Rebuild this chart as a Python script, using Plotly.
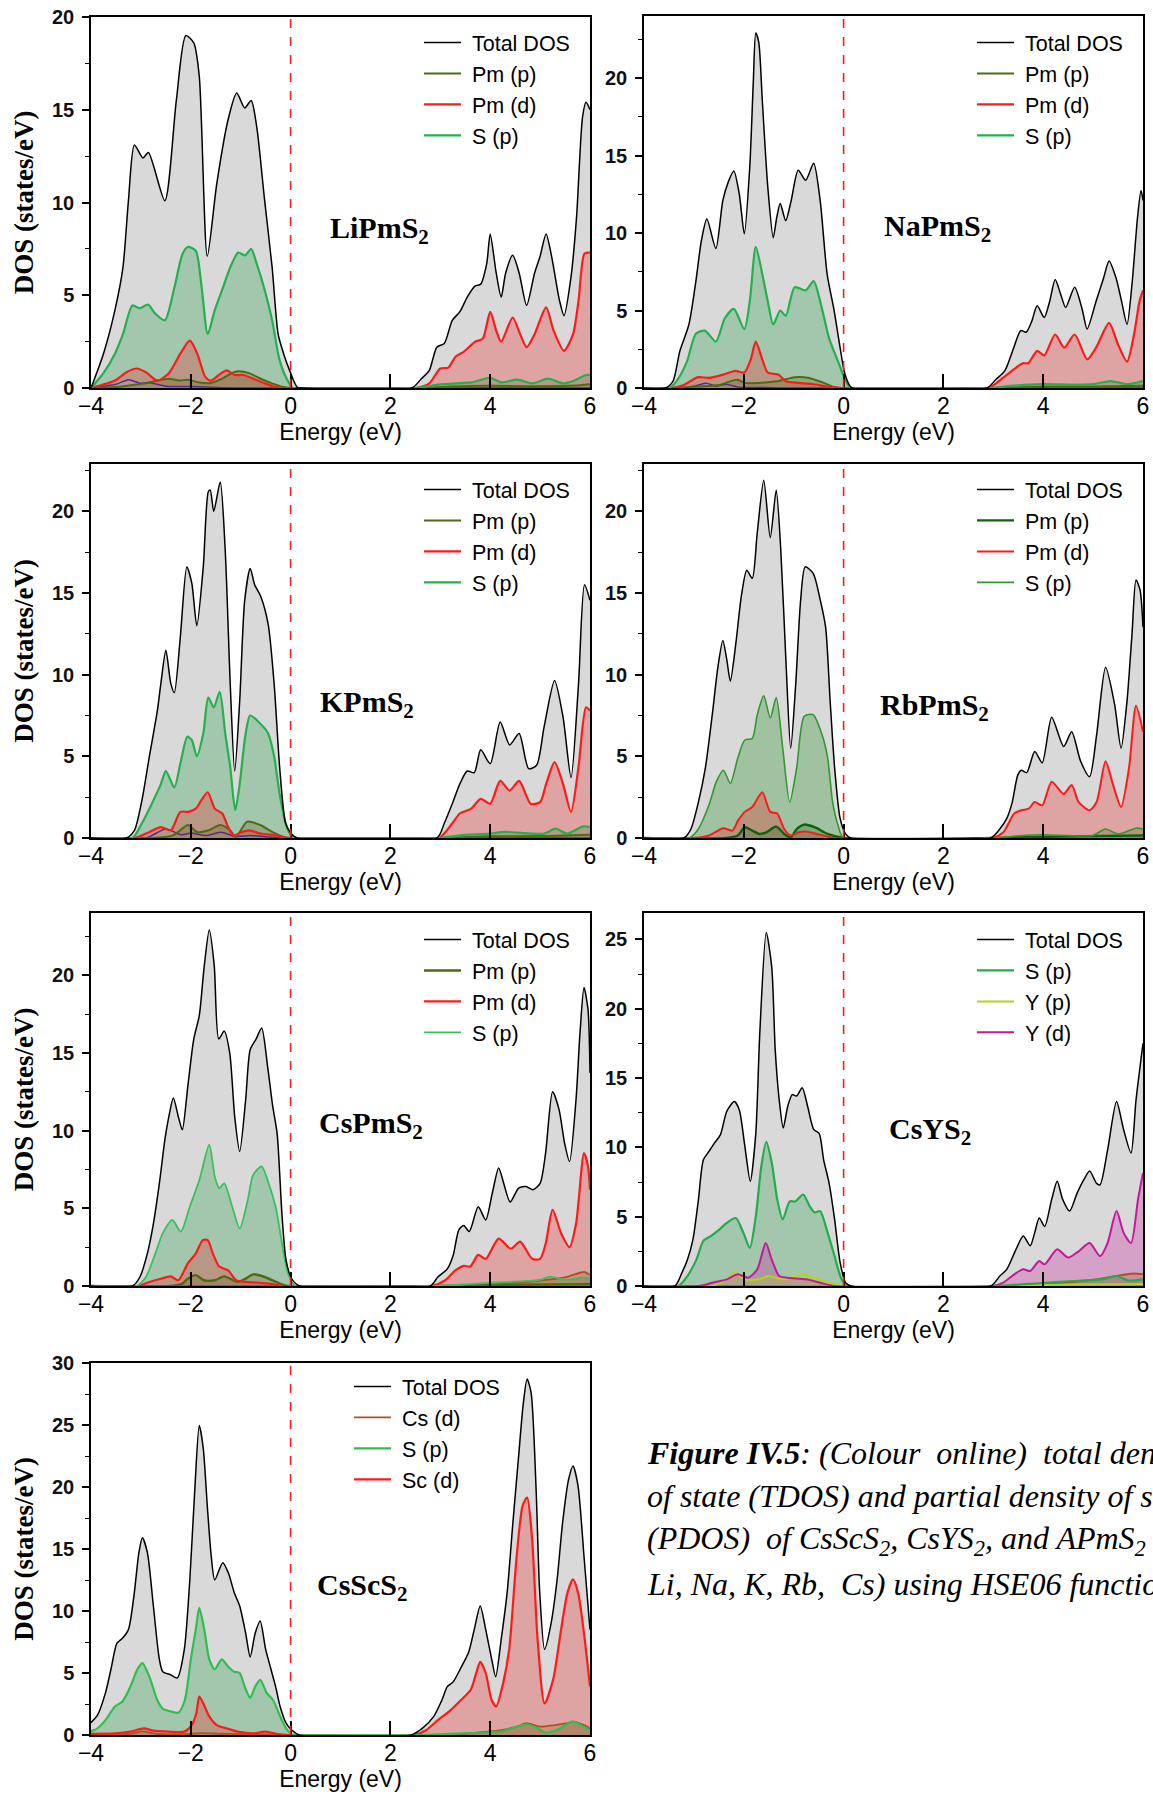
import plotly.graph_objects as go

W, H = 1153, 1796

# ----------------------------------------------------------------- data
# each list: (energy eV, DOS states/eV)
# LiPmS2
LI_TOT = [(-4.0,0),(-3.75,1.85),(-3.52,4.2),(-3.36,6.5),(-3.25,10.1),(-3.13,13.1),(-2.96,12.4),(-2.85,12.7),(-2.52,10.1),(-2.29,15.5),(-2.10,19.0),(-1.94,18.6),(-1.83,16.8),(-1.67,7.1),(-1.48,11.0),(-1.25,14.5),(-1.08,15.9),(-0.92,15.1),(-0.79,15.5),(-0.68,14.1),(-0.52,10.1),(-0.37,6.5),(-0.25,2.9),(-0.14,1.85),(-0.02,0.95),(0.13,0.05),(0.24,0),(2.43,0),(2.62,0.5),(2.78,0.95),(2.93,2.2),(3.08,2.4),(3.24,3.65),(3.39,4.1),(3.54,4.9),(3.70,5.5),(3.81,5.6),(3.93,6.7),(4.0,8.3),(4.12,6.2),(4.22,4.9),(4.31,6.2),(4.45,7.15),(4.58,6.2),(4.73,4.45),(4.89,6.2),(5.0,7.1),(5.12,8.3),(5.23,7.1),(5.39,4.7),(5.48,3.9),(5.62,6.0),(5.73,9.2),(5.85,14.6),(5.92,15.4),(6.0,15.0)]
LI_SP = [(-4.0,0),(-3.75,0.8),(-3.52,1.85),(-3.36,2.9),(-3.17,4.45),(-3.02,4.3),(-2.86,4.5),(-2.71,4.0),(-2.52,3.65),(-2.33,5.4),(-2.17,7.2),(-2.06,7.6),(-1.9,7.4),(-1.79,5.6),(-1.66,2.9),(-1.52,4.2),(-1.37,5.3),(-1.21,6.5),(-1.05,7.3),(-0.91,7.15),(-0.79,7.5),(-0.68,6.7),(-0.52,5.3),(-0.37,3.65),(-0.22,1.5),(-0.06,0.4),(0.05,0),(2.47,0),(3.0,0.2),(3.62,0.3),(4.0,0.55),(4.23,0.3),(4.54,0.45),(4.85,0.25),(5.16,0.5),(5.46,0.25),(5.69,0.4),(5.92,0.7),(6.0,0.7)]
LI_PMD = [(-4.0,0),(-3.52,0.4),(-3.29,0.85),(-3.09,1.05),(-2.9,0.85),(-2.67,0.4),(-2.44,0.8),(-2.21,1.85),(-2.02,2.55),(-1.87,1.85),(-1.71,0.6),(-1.6,0.4),(-1.44,0.7),(-1.28,0.95),(-1.12,0.7),(-0.95,0.7),(-0.75,0.5),(-0.52,0.25),(-0.29,0.05),(-0.14,0),(2.51,0),(2.78,0.25),(3.0,1.05),(3.16,1.1),(3.31,1.7),(3.47,1.95),(3.7,2.5),(3.85,2.65),(4.0,4.1),(4.12,3.1),(4.22,2.5),(4.45,3.8),(4.6,2.9),(4.73,2.2),(4.89,2.9),(5.12,4.35),(5.27,3.1),(5.48,2.0),(5.66,2.9),(5.77,4.7),(5.89,7.25),(6.0,7.3)]
LI_PMP = [(-4.0,0),(-3.52,0.05),(-3.2,0.15),(-2.9,0.25),(-2.67,0.4),(-2.44,0.5),(-2.21,0.4),(-2.06,0.45),(-1.83,0.3),(-1.6,0.27),(-1.37,0.5),(-1.18,0.8),(-1.05,0.9),(-0.83,0.8),(-0.6,0.5),(-0.37,0.25),(-0.14,0.05),(0.0,0),(2.6,0),(3.2,0.08),(4.0,0.12),(5.0,0.1),(5.8,0.15),(6.0,0.2)]
LI_X = [(-4.0,0),(-3.5,0.2),(-3.25,0.45),(-3.0,0.25),(-2.85,0.3),(-2.5,0.1),(-2.0,0.08),(-1.5,0.03),(-1.0,0),(6.0,0)]

# NaPmS2
NA_TOT = [(-4.0,0),(-3.57,0),(-3.42,0.43),(-3.28,2.4),(-3.1,4.1),(-2.96,6.9),(-2.85,9.5),(-2.74,10.9),(-2.56,9.0),(-2.42,12.1),(-2.31,13.3),(-2.2,14.0),(-2.09,12.5),(-1.99,9.95),(-1.88,14.3),(-1.81,19.7),(-1.76,22.9),(-1.70,22.3),(-1.63,18.6),(-1.52,13.0),(-1.41,9.7),(-1.34,11.0),(-1.27,11.9),(-1.16,10.8),(-1.05,12.1),(-0.91,14.05),(-0.76,13.4),(-0.6,14.5),(-0.47,12.1),(-0.33,7.35),(-0.19,5.0),(-0.08,2.8),(0.03,0.86),(0.17,0),(2.87,0),(3.05,0.55),(3.23,1.1),(3.41,2.6),(3.55,3.7),(3.66,3.6),(3.77,4.3),(3.88,5.3),(4.02,4.55),(4.13,5.6),(4.24,7.0),(4.35,6.05),(4.45,5.2),(4.63,6.5),(4.78,5.1),(4.88,3.8),(5.06,5.6),(5.21,7.1),(5.32,8.2),(5.46,7.1),(5.57,5.6),(5.68,4.1),(5.78,6.7),(5.89,11.0),(5.96,12.75),(6.0,12.1)]
NA_SP = [(-4.0,0),(-3.5,0),(-3.35,0.43),(-3.14,1.7),(-2.96,3.5),(-2.78,3.7),(-2.56,3.0),(-2.38,4.5),(-2.2,5.1),(-1.99,3.8),(-1.88,5.6),(-1.76,9.1),(-1.63,7.35),(-1.52,5.6),(-1.41,4.1),(-1.27,5.0),(-1.16,4.65),(-0.98,6.5),(-0.76,6.3),(-0.6,6.9),(-0.44,5.2),(-0.29,3.2),(-0.11,1.7),(0.03,0.54),(0.14,0),(2.9,0),(3.4,0.15),(4.0,0.25),(4.6,0.22),(5.0,0.25),(5.35,0.45),(5.7,0.25),(6.0,0.45)]
NA_PMD = [(-4.0,0),(-3.45,0),(-3.2,0.2),(-2.92,0.7),(-2.7,0.65),(-2.42,0.86),(-2.17,1.1),(-1.99,1.0),(-1.86,1.85),(-1.76,3.0),(-1.64,1.95),(-1.52,1.0),(-1.3,0.86),(-1.16,0.43),(-0.91,0.33),(-0.62,0.26),(-0.33,0.1),(-0.04,0),(2.9,0),(3.19,0.65),(3.41,1.2),(3.59,1.6),(3.7,1.6),(3.88,2.4),(4.02,2.1),(4.24,3.45),(4.42,2.6),(4.63,3.45),(4.88,1.85),(5.06,2.6),(5.32,4.2),(5.5,2.8),(5.68,1.7),(5.82,3.45),(5.93,5.6),(6.0,6.3)]
NA_PMP = [(-4.0,0),(-3.4,0),(-2.92,0.1),(-2.49,0.2),(-2.13,0.54),(-1.99,0.33),(-1.7,0.33),(-1.34,0.43),(-0.98,0.7),(-0.69,0.65),(-0.4,0.33),(-0.11,0),(3.0,0),(4.0,0.1),(5.0,0.1),(6.0,0.15)]
NA_X = [(-4.0,0),(-3.2,0),(-2.95,0.15),(-2.75,0.3),(-2.55,0.12),(-2.35,0.25),(-2.1,0.05),(-1.6,0.03),(-1.2,0),(6.0,0)]

# KPmS2
K_TOT = [(-4.0,0),(-3.29,0),(-3.13,0.47),(-2.98,2.3),(-2.83,5.0),(-2.67,7.8),(-2.6,9.45),(-2.5,11.5),(-2.4,9.45),(-2.33,8.9),(-2.21,12.3),(-2.08,16.6),(-1.98,15.6),(-1.88,13.0),(-1.75,16.6),(-1.65,21.2),(-1.61,21.3),(-1.54,20.0),(-1.41,21.8),(-1.31,17.6),(-1.21,9.45),(-1.12,4.1),(-1.02,8.4),(-0.92,14.55),(-0.81,16.5),(-0.72,15.5),(-0.6,14.8),(-0.45,13.1),(-0.33,9.45),(-0.22,4.35),(-0.1,0.9),(0.01,0.27),(0.13,0),(2.93,0),(3.08,0.9),(3.24,2.1),(3.39,3.3),(3.54,4.1),(3.68,4.0),(3.81,5.4),(4.0,4.55),(4.2,7.1),(4.39,5.7),(4.58,6.4),(4.77,4.25),(4.93,4.45),(5.08,6.8),(5.29,9.65),(5.46,7.4),(5.62,3.7),(5.77,9.45),(5.89,15.5),(6.0,14.55)]
K_SP = [(-4.0,0),(-3.17,0),(-2.98,0.9),(-2.75,2.3),(-2.6,3.3),(-2.5,4.1),(-2.33,3.1),(-2.21,4.55),(-2.07,6.2),(-1.98,6.0),(-1.88,5.0),(-1.75,6.4),(-1.65,8.6),(-1.54,8.0),(-1.42,8.95),(-1.31,6.4),(-1.21,4.35),(-1.11,1.7),(-1.02,3.3),(-0.91,6.2),(-0.81,7.5),(-0.64,7.1),(-0.45,6.4),(-0.33,5.0),(-0.22,2.7),(-0.1,0.9),(0.01,0.16),(0.13,0),(2.97,0),(3.39,0.16),(4.0,0.27),(4.3,0.37),(5.08,0.27),(5.31,0.57),(5.54,0.27),(5.85,0.7),(6.0,0.67)]
K_PMD = [(-4.0,0),(-3.13,0),(-2.9,0.27),(-2.6,0.67),(-2.4,0.47),(-2.21,1.6),(-2.06,1.6),(-1.9,1.8),(-1.79,2.3),(-1.66,2.8),(-1.52,1.8),(-1.37,1.5),(-1.25,0.67),(-1.14,0.16),(-0.98,0.37),(-0.83,0.47),(-0.6,0.27),(-0.29,0.16),(-0.06,0),(2.97,0),(3.24,0.9),(3.39,1.5),(3.62,1.8),(3.81,2.4),(4.0,2.1),(4.2,3.5),(4.39,2.9),(4.58,3.5),(4.81,2.1),(5.0,2.2),(5.12,3.3),(5.29,4.65),(5.46,3.3),(5.62,1.6),(5.77,4.35),(5.92,8.0),(6.0,7.8)]
K_PMP = [(-4.0,0),(-2.75,0),(-2.36,0.16),(-2.21,0.47),(-2.06,0.8),(-1.87,0.37),(-1.64,0.47),(-1.41,0.8),(-1.21,0.47),(-1.1,0.06),(-0.87,1.0),(-0.6,0.78),(-0.37,0.37),(-0.14,0.06),(0.0,0),(3.0,0),(4.0,0.1),(5.0,0.12),(6.0,0.2)]
K_X = [(-4.0,0),(-2.9,0),(-2.5,0.55),(-2.2,0.2),(-2.0,0.3),(-1.7,0.15),(-1.4,0.35),(-1.1,0.1),(-0.8,0.15),(-0.4,0.05),(0.0,0),(6.0,0)]

# RbPmS2
RB_TOT = [(-4.0,0),(-3.2,0),(-3.06,0.55),(-2.91,2.2),(-2.77,4.3),(-2.63,7.6),(-2.52,10.45),(-2.42,12.1),(-2.34,10.9),(-2.27,9.6),(-2.16,11.9),(-2.05,14.8),(-1.94,16.4),(-1.83,15.9),(-1.73,18.7),(-1.6,21.9),(-1.47,18.4),(-1.35,21.3),(-1.26,17.7),(-1.15,10.45),(-1.06,5.5),(-0.96,9.4),(-0.86,14.6),(-0.77,16.6),(-0.61,16.2),(-0.47,14.6),(-0.36,12.9),(-0.27,8.4),(-0.18,4.3),(-0.07,1.2),(0.04,0.25),(0.14,0),(2.95,0),(3.13,0.55),(3.27,1.2),(3.38,2.2),(3.49,3.85),(3.56,4.15),(3.67,4.0),(3.83,5.3),(3.98,4.6),(4.17,7.4),(4.41,5.6),(4.57,6.5),(4.75,4.7),(4.93,3.75),(5.07,6.3),(5.25,10.45),(5.43,8.2),(5.56,5.5),(5.68,8.4),(5.78,12.5),(5.86,15.8),(5.94,15.2),(6.0,12.9)]
RB_SP = [(-4.0,0),(-3.09,0),(-2.91,0.55),(-2.7,2.0),(-2.55,3.45),(-2.41,4.15),(-2.27,3.35),(-2.12,4.9),(-1.98,6.0),(-1.83,6.1),(-1.73,7.55),(-1.6,8.7),(-1.47,7.35),(-1.35,8.6),(-1.22,5.5),(-1.08,2.2),(-0.94,4.3),(-0.79,7.45),(-0.61,7.55),(-0.43,6.3),(-0.32,4.9),(-0.22,2.2),(-0.11,0.76),(0.0,0),(3.0,0),(3.56,0.15),(4.0,0.2),(4.99,0.15),(5.25,0.55),(5.5,0.25),(5.86,0.6),(6.0,0.55)]
RB_PMD = [(-4.0,0),(-3.0,0),(-2.7,0.15),(-2.41,0.6),(-2.23,0.45),(-2.12,1.05),(-1.98,1.6),(-1.83,1.9),(-1.63,2.8),(-1.47,1.6),(-1.33,1.5),(-1.19,0.55),(-1.06,0.15),(-0.9,0.35),(-0.76,0.4),(-0.47,0.2),(-0.18,0),(2.99,0),(3.2,0.35),(3.42,1.5),(3.56,1.7),(3.71,1.8),(3.83,2.2),(3.98,2.0),(4.17,3.45),(4.41,2.7),(4.57,3.25),(4.71,2.2),(4.93,1.7),(5.07,2.2),(5.25,4.7),(5.4,3.25),(5.56,1.9),(5.72,4.3),(5.86,8.1),(6.0,6.5)]
RB_PMP = [(-4.0,0),(-2.34,0),(-2.12,0.15),(-1.98,0.66),(-1.83,0.45),(-1.69,0.25),(-1.55,0.35),(-1.35,0.7),(-1.19,0.25),(-1.06,0.04),(-0.94,0.55),(-0.79,0.82),(-0.58,0.66),(-0.32,0.25),(0.0,0),(3.0,0),(4.5,0.1),(6.0,0.15)]

# CsPmS2
CSPM_TOT = [(-4.0,0),(-3.17,0),(-3.02,0.58),(-2.87,2.1),(-2.75,4.0),(-2.63,6.6),(-2.52,9.4),(-2.44,10.9),(-2.35,12.1),(-2.25,10.9),(-2.17,10.05),(-2.06,12.85),(-1.94,15.9),(-1.83,17.4),(-1.73,20.6),(-1.63,22.9),(-1.53,20.6),(-1.44,15.9),(-1.33,16.4),(-1.22,15.0),(-1.12,10.9),(-1.02,8.65),(-0.9,12.0),(-0.81,15.2),(-0.69,15.9),(-0.58,16.6),(-0.46,14.1),(-0.36,11.6),(-0.27,9.8),(-0.17,4.45),(-0.09,1.65),(0.02,0.47),(0.18,0),(2.8,0),(2.95,0.58),(3.14,1.1),(3.26,2.0),(3.37,3.6),(3.47,3.9),(3.58,3.5),(3.76,5.1),(3.91,4.25),(4.04,5.95),(4.17,7.6),(4.28,6.5),(4.4,5.4),(4.57,6.3),(4.72,6.4),(4.86,6.2),(5.0,6.6),(5.11,8.55),(5.25,12.5),(5.38,11.35),(5.49,9.2),(5.59,8.0),(5.72,12.0),(5.8,16.3),(5.88,19.2),(5.96,17.8),(6.0,13.7)]
CSPM_SP = [(-4.0,0),(-3.09,0),(-2.9,0.58),(-2.71,2.1),(-2.56,3.4),(-2.37,4.25),(-2.2,3.5),(-2.02,5.1),(-1.83,6.8),(-1.63,9.1),(-1.52,7.05),(-1.43,6.3),(-1.33,6.6),(-1.17,5.1),(-1.02,3.7),(-0.86,5.5),(-0.75,7.15),(-0.58,7.7),(-0.44,6.6),(-0.3,5.1),(-0.17,2.7),(-0.05,0.8),(0.1,0),(2.9,0),(3.5,0.1),(4.0,0.2),(4.6,0.3),(5.0,0.4),(5.2,0.6),(5.5,0.4),(5.9,0.55),(6.0,0.45)]
CSPM_PMD = [(-4.0,0),(-3.05,0),(-2.83,0.26),(-2.6,0.47),(-2.4,0.62),(-2.25,0.37),(-2.06,1.45),(-1.9,2.1),(-1.76,2.95),(-1.66,2.95),(-1.56,2.1),(-1.43,1.25),(-1.25,1.0),(-1.09,0.37),(-0.9,0.26),(-0.67,0.22),(-0.44,0.15),(-0.13,0),(2.83,0),(3.1,0.37),(3.3,1.0),(3.47,1.3),(3.6,1.25),(3.76,2.0),(3.91,1.75),(4.17,3.05),(4.41,2.4),(4.6,2.85),(4.84,1.75),(5.0,1.75),(5.11,2.7),(5.25,4.9),(5.42,3.4),(5.59,2.5),(5.72,4.0),(5.88,8.55),(5.96,7.7),(6.0,6.2)]
CSPM_PMP = [(-4.0,0),(-2.4,0),(-2.17,0.15),(-2.06,0.47),(-1.9,0.7),(-1.74,0.37),(-1.52,0.37),(-1.33,0.62),(-1.06,0.26),(-0.9,0.47),(-0.75,0.75),(-0.52,0.58),(-0.29,0.26),(-0.05,0),(3.0,0),(4.5,0.08),(6.0,0.12)]
CSPM_X = [(-4.0,0),(3.0,0),(4.0,0.1),(4.5,0.2),(5.0,0.35),(5.5,0.55),(5.88,0.9),(6.0,0.7)]

# CsYS2
CSY_TOT = [(-4.0,0),(-3.38,0),(-3.24,0.96),(-3.13,1.9),(-3.02,3.35),(-2.91,6.2),(-2.81,9.1),(-2.7,9.7),(-2.59,10.3),(-2.47,10.9),(-2.34,12.6),(-2.19,13.3),(-2.09,12.7),(-1.98,10.1),(-1.87,7.55),(-1.76,11.0),(-1.68,18.2),(-1.55,25.5),(-1.44,23.0),(-1.37,17.0),(-1.29,13.4),(-1.21,11.4),(-1.12,12.95),(-1.03,13.8),(-0.94,13.7),(-0.83,14.3),(-0.72,12.95),(-0.6,11.3),(-0.49,11.0),(-0.4,9.1),(-0.29,7.4),(-0.18,4.8),(-0.07,1.7),(0.04,0.24),(0.15,0),(2.95,0),(3.13,0.72),(3.27,1.2),(3.45,2.6),(3.6,3.6),(3.74,2.9),(3.83,3.85),(3.92,4.9),(4.03,4.3),(4.17,6.25),(4.28,7.55),(4.39,6.25),(4.53,5.4),(4.68,6.7),(4.82,7.7),(4.93,8.3),(5.07,7.4),(5.14,7.3),(5.29,9.8),(5.47,13.3),(5.61,11.3),(5.76,9.6),(5.86,13.4),(6.0,17.5)]
CSY_SP = [(-4.0,0),(-3.31,0),(-3.13,0.72),(-2.95,1.9),(-2.81,3.25),(-2.66,3.6),(-2.48,4.1),(-2.34,4.55),(-2.16,4.9),(-2.01,3.85),(-1.88,2.75),(-1.76,5.0),(-1.65,8.6),(-1.55,10.4),(-1.44,8.9),(-1.33,6.25),(-1.22,4.8),(-1.08,6.1),(-0.97,6.1),(-0.81,6.6),(-0.68,5.75),(-0.58,5.3),(-0.47,5.4),(-0.32,3.85),(-0.18,2.15),(-0.04,0.48),(0.1,0),(3.0,0),(3.9,0.2),(4.6,0.36),(5.2,0.5),(5.47,0.72),(5.7,0.4),(6.0,0.48)]
CSY_YP = [(-4.0,0),(-2.63,0),(-2.34,0.48),(-2.19,1.0),(-1.98,0.48),(-1.69,0.48),(-1.51,0.72),(-1.19,0.48),(-0.83,0.84),(-0.61,0.6),(-0.32,0.3),(-0.04,0),(3.0,0),(4.5,0.1),(6.0,0.15)]
CSY_YD = [(-4.0,0),(-2.91,0),(-2.63,0.24),(-2.34,0.48),(-2.12,0.84),(-1.91,0.6),(-1.73,1.2),(-1.56,3.1),(-1.44,1.9),(-1.29,0.72),(-1.12,0.6),(-0.76,0.48),(-0.47,0.24),(-0.18,0),(2.99,0),(3.2,0.24),(3.42,0.84),(3.6,1.2),(3.74,1.08),(3.92,1.8),(4.03,1.56),(4.28,2.65),(4.5,2.05),(4.71,2.5),(4.93,3.1),(5.14,2.15),(5.29,3.1),(5.47,5.4),(5.61,3.85),(5.76,3.1),(5.9,6.25),(6.0,8.15)]
CSY_X = [(-4.0,0),(3.2,0),(4.3,0.2),(5.0,0.45),(5.5,0.75),(5.8,0.9),(6.0,0.85)]

# CsScS2
CSSC_TOT = [(-4.0,1.0),(-3.87,1.6),(-3.71,3.4),(-3.6,5.3),(-3.48,7.4),(-3.37,7.8),(-3.25,8.5),(-3.14,11.2),(-3.04,14.7),(-2.97,15.9),(-2.87,14.7),(-2.75,10.4),(-2.63,6.1),(-2.56,5.1),(-2.4,4.85),(-2.27,4.6),(-2.13,6.9),(-2.02,12.5),(-1.92,19.8),(-1.83,24.95),(-1.75,23.1),(-1.67,18.5),(-1.59,14.4),(-1.52,12.5),(-1.36,13.9),(-1.25,13.1),(-1.13,11.5),(-1.02,10.4),(-0.9,8.2),(-0.81,6.3),(-0.71,8.2),(-0.61,9.2),(-0.5,6.9),(-0.4,5.4),(-0.3,3.9),(-0.21,2.3),(-0.09,0.95),(0.02,0.4),(0.18,0),(2.41,0),(2.64,0.54),(2.87,1.5),(3.03,2.8),(3.14,3.9),(3.26,4.3),(3.41,5.4),(3.57,6.7),(3.68,8.5),(3.8,10.4),(3.91,8.5),(4.03,6.1),(4.11,4.7),(4.22,7.7),(4.34,11.5),(4.45,16.9),(4.57,22.5),(4.66,26.6),(4.74,28.7),(4.82,27.6),(4.92,19.8),(4.99,11.7),(5.09,6.9),(5.22,9.0),(5.34,12.5),(5.45,17.1),(5.57,20.6),(5.66,21.7),(5.76,20.1),(5.88,14.4),(6.0,8.5)]
CSSC_SP = [(-4.0,0.3),(-3.87,0.54),(-3.71,1.2),(-3.52,2.3),(-3.37,2.7),(-3.21,3.9),(-3.07,5.3),(-2.97,5.8),(-2.83,4.7),(-2.67,2.8),(-2.56,2.1),(-2.4,1.9),(-2.25,1.8),(-2.12,2.8),(-2.0,6.1),(-1.9,8.5),(-1.83,10.25),(-1.73,8.5),(-1.63,6.1),(-1.52,5.3),(-1.38,6.1),(-1.25,5.5),(-1.13,5.1),(-1.02,5.0),(-0.92,3.9),(-0.81,3.0),(-0.71,3.9),(-0.61,4.45),(-0.48,3.4),(-0.35,2.8),(-0.21,1.5),(-0.09,0.54),(0.02,0.05),(0.1,0),(2.64,0),(3.41,0.13),(3.9,0.2),(4.22,0.27),(4.53,0.67),(4.72,0.86),(4.95,0.54),(5.11,0.2),(5.34,0.4),(5.65,1.08),(5.88,0.67),(6.0,0.4)]
CSSC_SCD = [(-4.0,0.1),(-3.52,0.13),(-3.21,0.27),(-2.94,0.54),(-2.75,0.35),(-2.45,0.27),(-2.13,0.27),(-1.98,0.8),(-1.89,1.75),(-1.83,3.1),(-1.75,2.55),(-1.63,1.5),(-1.48,0.8),(-1.29,0.54),(-1.06,0.27),(-0.75,0.13),(-0.52,0.27),(-0.29,0.1),(-0.05,0),(2.49,0),(2.72,0.4),(2.95,1.2),(3.18,1.9),(3.41,2.8),(3.61,3.65),(3.72,5.0),(3.8,5.9),(3.91,5.0),(4.03,2.8),(4.12,2.3),(4.26,4.2),(4.38,6.9),(4.53,14.4),(4.65,18.5),(4.74,19.15),(4.84,15.8),(4.95,7.7),(5.09,2.55),(5.26,4.45),(5.42,8.5),(5.55,11.5),(5.66,12.55),(5.76,11.5),(5.88,8.2),(6.0,3.9)]
CSSC_CSD = [(-4.0,0),(-3.2,0.1),(-2.97,0.3),(-2.7,0.1),(-2.2,0.05),(-1.8,0.15),(-1.4,0.1),(-0.5,0.05),(0.0,0),(3.0,0),(3.6,0.13),(3.9,0.25),(4.22,0.4),(4.53,0.67),(4.72,0.95),(5.0,0.67),(5.3,0.8),(5.55,0.95),(5.67,1.08),(5.88,0.8),(6.0,0.54)]

X_TICKS = [-4, -2, 0, 2, 4, 6]
X_RANGE = [-4, 6]

# ----------------------------------------------------------------- styles
BLACK = "#000000"
GREY_FILL = "rgb(217,217,217)"
RED = "#ff1a1a"; RED_FILL = "rgba(235,40,40,0.30)"
GREEN = "#22b14c"; GREEN_FILL = "rgba(55,165,85,0.33)"
OLIVE = "#4e6b14"; OLIVE_FILL = "rgba(110,100,30,0.30)"
PURPLE = "#5b2a8e"
BROWN = "#a8541c"; BROWN_FILL = "rgba(168,84,28,0.25)"
MAGENTA = "#c8169b"; MAGENTA_FILL = "rgba(200,22,155,0.28)"
YGREEN = "#b5d31a"

def S(label, data, color, width, fill, legend=True, rank=0):
    return dict(label=label, data=data, color=color, width=width, fill=fill, legend=legend, rank=rank)

# panels: (compound label, frame px (x0,x1,y0,y1), ymax, yaxis title?, legend px (x,y), label px (x,y), series)
PANELS = [
    ("LiPmS<sub>2</sub>", (91, 590, 17, 388), 20.0, True, (419, 22), (379, 230), [
        S("Total DOS", LI_TOT, BLACK, 1.5, GREY_FILL, True, 1),
        S("S (p)", LI_SP, GREEN, 2.2, GREEN_FILL, True, 4),
        S("Pm (d)", LI_PMD, RED, 2.2, RED_FILL, True, 3),
        S("Pm (p)", LI_PMP, OLIVE, 2.0, OLIVE_FILL, True, 2),
        S("x", LI_X, PURPLE, 1.5, None, False)]),
    ("NaPmS<sub>2</sub>", (644, 1143, 16, 388), 24.0, False, (972, 22), (937, 228), [
        S("Total DOS", NA_TOT, BLACK, 1.5, GREY_FILL, True, 1),
        S("S (p)", NA_SP, GREEN, 2.2, GREEN_FILL, True, 4),
        S("Pm (d)", NA_PMD, RED, 2.2, RED_FILL, True, 3),
        S("Pm (p)", NA_PMP, OLIVE, 2.0, OLIVE_FILL, True, 2),
        S("x", NA_X, PURPLE, 1.5, None, False)]),
    ("KPmS<sub>2</sub>", (91, 590, 464, 838), 22.9, True, (419, 469), (367, 704), [
        S("Total DOS", K_TOT, BLACK, 1.5, GREY_FILL, True, 1),
        S("S (p)", K_SP, GREEN, 2.2, GREEN_FILL, True, 4),
        S("Pm (d)", K_PMD, RED, 2.2, RED_FILL, True, 3),
        S("Pm (p)", K_PMP, OLIVE, 2.0, OLIVE_FILL, True, 2),
        S("x", K_X, PURPLE, 1.5, None, False)]),
    ("RbPmS<sub>2</sub>", (644, 1143, 464, 838), 22.9, False, (972, 469), (934, 707), [
        S("Total DOS", RB_TOT, BLACK, 1.5, GREY_FILL, True, 1),
        S("S (p)", RB_SP, "#2e9a2e", 1.6, "rgba(50,150,50,0.33)", True, 4),
        S("Pm (d)", RB_PMD, RED, 2.0, RED_FILL, True, 3),
        S("Pm (p)", RB_PMP, "#0b640b", 2.4, "rgba(20,90,20,0.25)", True, 2)]),
    ("CsPmS<sub>2</sub>", (91, 590, 913, 1286), 24.0, True, (419, 919), (371, 1125), [
        S("Total DOS", CSPM_TOT, BLACK, 1.5, GREY_FILL, True, 1),
        S("S (p)", CSPM_SP, "#35c25a", 1.8, GREEN_FILL, True, 4),
        S("Pm (d)", CSPM_PMD, RED, 2.2, RED_FILL, True, 3),
        S("Pm (p)", CSPM_PMP, OLIVE, 2.4, OLIVE_FILL, True, 2),
        S("x", CSPM_X, BROWN, 1.8, BROWN_FILL, False)]),
    ("CsYS<sub>2</sub>", (644, 1143, 913, 1286), 26.9, False, (972, 919), (930, 1131), [
        S("Total DOS", CSY_TOT, BLACK, 1.5, GREY_FILL, True, 1),
        S("S (p)", CSY_SP, "#1fae4a", 2.2, GREEN_FILL, True, 2),
        S("Y (d)", CSY_YD, MAGENTA, 2.0, MAGENTA_FILL, True, 4),
        S("Y (p)", CSY_YP, YGREEN, 2.0, "rgba(180,210,30,0.25)", True, 3),
        S("x", CSY_X, BROWN, 1.8, BROWN_FILL, False)]),
    ("CsScS<sub>2</sub>", (91, 590, 1363, 1735), 30.0, True, (349, 1366), (362, 1587), [
        S("Total DOS", CSSC_TOT, BLACK, 1.5, GREY_FILL, True, 1),
        S("S (p)", CSSC_SP, "#2fbf4f", 2.2, GREEN_FILL, True, 3),
        S("Sc (d)", CSSC_SCD, RED, 2.2, RED_FILL, True, 4),
        S("Cs (d)", CSSC_CSD, BROWN, 1.8, BROWN_FILL, True, 2)]),
]

CAPTION = [
    "<b>Figure IV.5</b>: (Colour  online)  total density",
    "of state (TDOS) and partial density of states",
    "(PDOS)  of CsScS<sub>2</sub>, CsYS<sub>2</sub>, and APmS<sub>2</sub> (A =",
    "Li, Na, K, Rb,  Cs) using HSE06 functional.",
]
CAPTION_Y = [1453, 1496, 1540, 1584]

# ----------------------------------------------------------------- figure
fig = go.Figure()
layout = dict(
    width=W, height=H, margin=dict(l=0, r=0, t=0, b=0, autoexpand=False),
    paper_bgcolor="white", plot_bgcolor="white", showlegend=True,
    font=dict(family="Liberation Sans, Arial, sans-serif", color="black"),
)
annotations = []
shapes = []

def px_x(v):
    return v / W

def px_y(v):
    return 1 - v / H

NBSP = "\u00a0"

for i, (lab, (x0, x1, y0, y1), ymax, ytitle, (lx, ly), (ax, ay), series) in enumerate(PANELS, start=1):
    sfx = "" if i == 1 else str(i)
    xa, ya = "x" + sfx, "y" + sfx
    leg = "legend" + sfx
    # fills
    for k, s in enumerate(series):
        if s["fill"] is None:
            continue
        xs = [p[0] for p in s["data"]]
        ys = [p[1] for p in s["data"]]
        fig.add_trace(go.Scatter(
            x=xs, y=ys, mode="lines", fill="tozeroy", fillcolor=s["fill"],
            line=dict(width=0, shape="spline", smoothing=0.7),
            xaxis=xa, yaxis=ya, showlegend=False, hoverinfo="skip",
            legendgroup=f"g{i}_{k}", legend=leg))
    # lines (drawn in reverse so total DOS ends on top)
    for k in reversed(range(len(series))):
        s = series[k]
        xs = [p[0] for p in s["data"]]
        ys = [p[1] for p in s["data"]]
        fig.add_trace(go.Scatter(
            x=xs, y=ys, mode="lines", name=NBSP + s["label"],
            line=dict(color=s["color"], width=s["width"], shape="spline", smoothing=0.7),
            xaxis=xa, yaxis=ya, showlegend=s["legend"],
            legendrank=s["rank"] if s["legend"] else 1000,
            legendgroup=f"g{i}_{k}", legend=leg))

    layout["xaxis" + sfx] = dict(
        domain=[px_x(x0), px_x(x1)], anchor=ya, range=X_RANGE, automargin=False,
        tickvals=X_TICKS, ticks="inside", ticklen=14, tickwidth=1.5, tickcolor="black",
        showline=True, linecolor="black", linewidth=1.5, mirror=True,
        showgrid=False, zeroline=False, ticklabelstandoff=-3,
        tickfont=dict(size=23, color="black"),
        title=dict(text="Energy (eV)", font=dict(size=23, color="black"), standoff=2),
    )
    yax = dict(
        domain=[px_y(y1), px_y(y0)], anchor=xa, range=[0, ymax], automargin=False,
        dtick=5, tick0=0, ticks="outside", ticklen=7, tickwidth=1.5, tickcolor="black",
        minor=dict(ticks="outside", ticklen=4, tickwidth=1.2, tickcolor="black", dtick=2.5, tick0=0),
        showline=True, linecolor="black", linewidth=1.5, mirror=True,
        showgrid=False, zeroline=False, ticklabelstandoff=4,
        tickfont=dict(size=20, color="#111111", weight="bold"),
    )
    if ytitle:
        yax["title"] = dict(text="DOS (states/eV)", standoff=11,
                            font=dict(family="Liberation Serif, Times New Roman, serif",
                                      size=27, color="black", weight="bold"))
    layout["yaxis" + sfx] = yax

    layout[leg] = dict(
        x=px_x(lx), y=px_y(ly), xanchor="left", yanchor="top",
        bgcolor="rgba(0,0,0,0)", borderwidth=0, tracegroupgap=0,
        font=dict(size=21.5, color="black"), itemwidth=37,
    )

    # Fermi level
    shapes.append(dict(type="line", xref=xa, yref=ya + " domain", x0=0, x1=0, y0=0, y1=1,
                       line=dict(color="#ff1a1a", width=1.6, dash="dash")))
    # compound label
    annotations.append(dict(
        text=lab, xref="paper", yref="paper", x=px_x(ax), y=px_y(ay),
        xanchor="center", yanchor="middle", showarrow=False,
        font=dict(family="Liberation Serif, Times New Roman, serif", size=30,
                  color="black", weight="bold")))

for txt, cy in zip(CAPTION, CAPTION_Y):
    annotations.append(dict(
        text=txt, xref="paper", yref="paper", x=px_x(645), y=px_y(cy),
        xanchor="left", yanchor="middle", showarrow=False, align="left",
        font=dict(family="Liberation Serif, Times New Roman, serif", size=32,
                  color="black", style="italic")))

layout["annotations"] = annotations
layout["shapes"] = shapes
fig.update_layout(**layout)

fig.write_html("out.html")
